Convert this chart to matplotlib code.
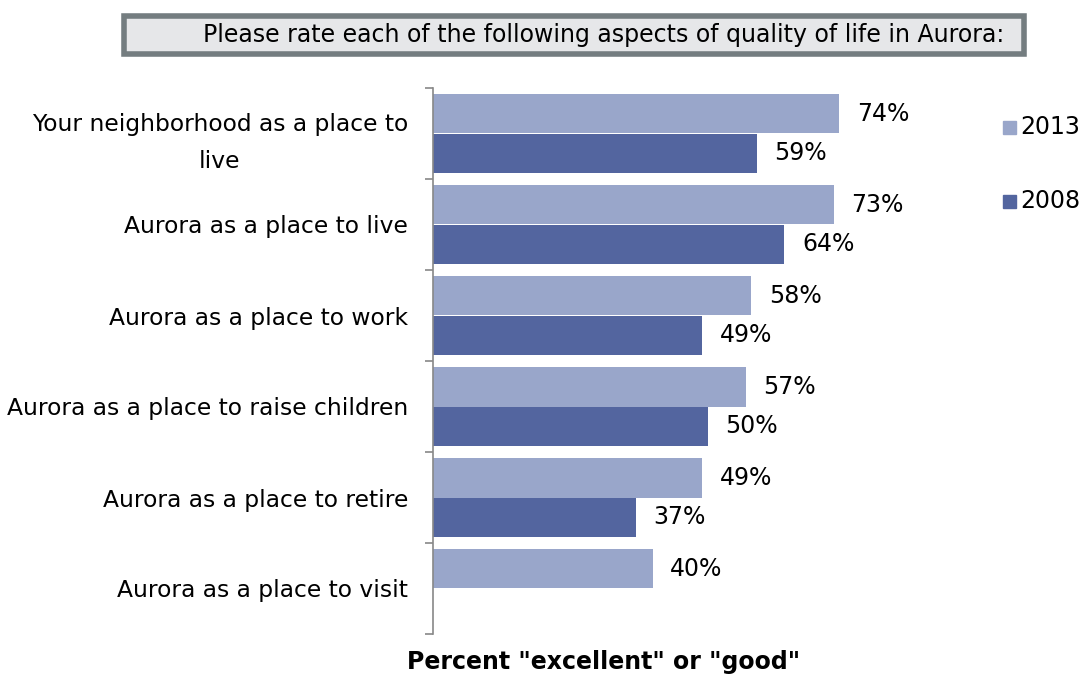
import numpy as np
import matplotlib.pyplot as plt
from matplotlib.patches import Rectangle

# --------------------- data ---------------------
categories = ["Your neighborhood as a place to\nlive",
              "Aurora as a place to live",
              "Aurora as a place to work",
              "Aurora as a place to raise children",
              "Aurora as a place to retire",
              "Aurora as a place to visit"]
vals_2013 = [74, 73, 58, 57, 49, 40]
vals_2008 = [59, 64, 49, 50, 37, None]
series_names = ["2013", "2008"]

c13 = "#99a6ca"
c08 = "#53659f"

fig = plt.figure(figsize=(10.87, 6.83), dpi=100)
ax = fig.add_axes([433 / 1087, 1 - 634 / 683, (982 - 433) / 1087, (634 - 88) / 683])

n = len(categories)
y = np.arange(n)
h = 0.435
for i in range(n):
    ax.barh(i - h / 2, vals_2013[i], height=h, color=c13)
    ax.text(vals_2013[i] + 3.2, i - h / 2, f"{vals_2013[i]}%", va="center",
            ha="left", fontsize=17)
    if vals_2008[i] is not None:
        ax.barh(i + h / 2, vals_2008[i], height=h, color=c08)
        ax.text(vals_2008[i] + 3.2, i + h / 2, f"{vals_2008[i]}%", va="center",
                ha="left", fontsize=17)

ax.set_xlim(0, 100)
ax.set_ylim(n - 0.5, -0.5)
ax.set_xticks([])
ax.set_yticks(np.arange(n + 1) - 0.5)
ax.set_yticklabels([])
ax.set_yticks(y, minor=True)
ax.set_yticklabels(categories, minor=True, fontsize=16.8, ha="right",
                   multialignment="center", linespacing=1.75)
ax.tick_params(axis="y", which="major", length=6, color="#888888", width=1.2)
ax.tick_params(axis="y", which="minor", length=0, pad=18)
for s in ["top", "right", "bottom"]:
    ax.spines[s].set_visible(False)
ax.spines["left"].set_color("#888888")
ax.spines["left"].set_linewidth(1.2)

# legend
fig.patches.append(Rectangle((1003 / 1087, 1 - 134 / 683), 13 / 1087, 13 / 683,
                             transform=fig.transFigure, color=c13))
fig.patches.append(Rectangle((1003 / 1087, 1 - 208 / 683), 13 / 1087, 13 / 683,
                             transform=fig.transFigure, color=c08))
fig.text(1020 / 1087, 1 - 127 / 683, series_names[0], fontsize=17, va="center")
fig.text(1020 / 1087, 1 - 201 / 683, series_names[1], fontsize=17, va="center")

# question box
fig.patches.append(Rectangle((124 / 1087, 1 - 54 / 683), 900 / 1087, 38 / 683,
                             transform=fig.transFigure, facecolor="#e6e7e9",
                             edgecolor="#747d80", linewidth=4))
fig.text(604 / 1087, 1 - 35 / 683,
         "Please rate each of the following aspects of quality of life in Aurora:",
         ha="center", va="center", fontsize=17)

fig.text(604 / 1087, 1 - 662 / 683, 'Percent "excellent" or "good"',
         ha="center", va="center", fontsize=17, fontweight="bold")

fig.savefig("out.png", dpi=100)
